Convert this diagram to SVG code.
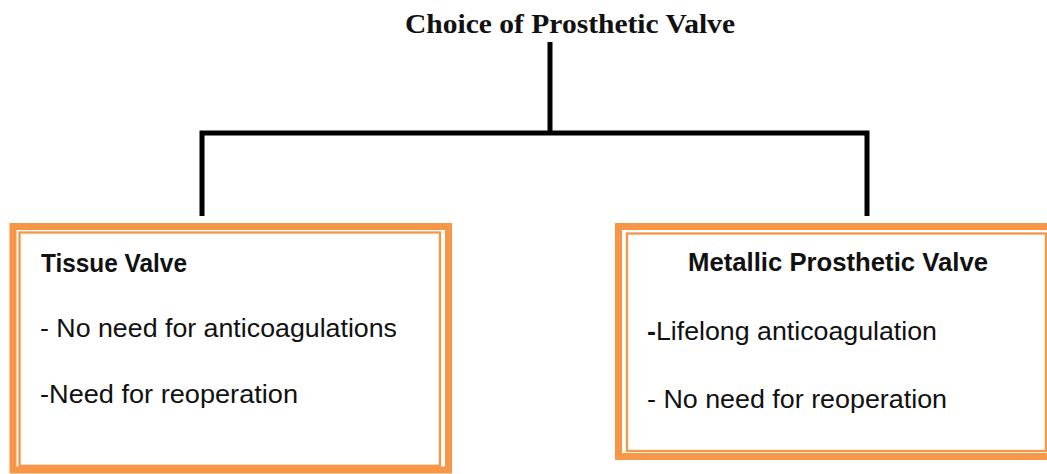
<svg xmlns="http://www.w3.org/2000/svg" width="1047" height="474" viewBox="0 0 1047 474">
<style>
  .conn { stroke: #000; stroke-width: 5; fill: none; stroke-linecap: butt; }
  .outer { fill: none; stroke: #F79646; stroke-width: 7; }
  .inner { fill: none; stroke: #F79646; stroke-width: 2.3; }
  .title { font-family: "Liberation Serif", "Times New Roman", serif; font-weight: bold; font-size: 28px; fill: #111; }
  .head { font-family: "Liberation Sans", Arial, sans-serif; font-weight: bold; font-size: 25px; fill: #111; }
  .body { font-family: "Liberation Sans", Arial, sans-serif; font-size: 25px; fill: #111; }
</style>
<rect width="1047" height="474" fill="#fff"/>
<g id="title">
  <text class="title" x="405" y="33" textLength="330" lengthAdjust="spacingAndGlyphs">Choice of Prosthetic Valve</text>
</g>
<g id="connectors">
  <path class="conn" d="M550 42 V133"/>
  <path class="conn" d="M202 216 V133 H867 V216" stroke-linejoin="miter"/>
</g>
<g id="tissue-valve">
  <rect class="outer" x="13" y="226.5" width="435.5" height="243.5"/>
  <rect class="inner" x="19.5" y="232.5" width="420.5" height="233.3"/>
  <text class="head" x="41" y="272" textLength="146" lengthAdjust="spacingAndGlyphs">Tissue Valve</text>
  <text class="body" x="40" y="337" textLength="357" lengthAdjust="spacingAndGlyphs">- No need for anticoagulations</text>
  <text class="body" x="40" y="403" textLength="258" lengthAdjust="spacingAndGlyphs">-Need for reoperation</text>
</g>
<g id="metallic-valve">
  <rect class="outer" x="618.5" y="226.5" width="440" height="230"/>
  <rect class="inner" x="627" y="233.5" width="419" height="217.5" stroke-width="3"/>
  <text class="head" x="688" y="271" textLength="300" lengthAdjust="spacingAndGlyphs">Metallic  Prosthetic Valve</text>
  <text class="body" x="647" y="340" textLength="290" lengthAdjust="spacingAndGlyphs"><tspan font-weight="bold">-</tspan>Lifelong anticoagulation</text>
  <text class="body" x="647" y="408" textLength="300" lengthAdjust="spacingAndGlyphs">- No need for reoperation</text>
</g>
</svg>
